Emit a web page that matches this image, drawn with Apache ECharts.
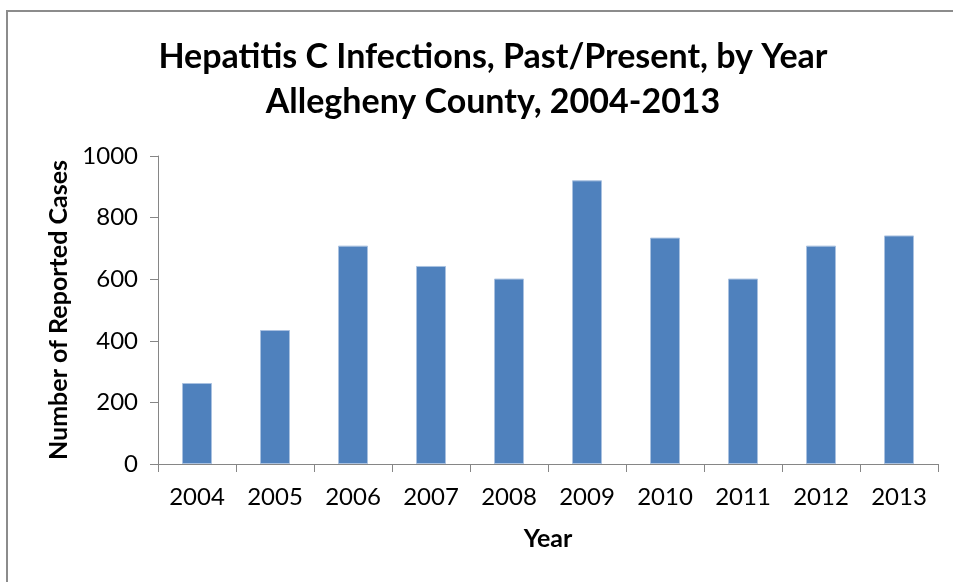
<!DOCTYPE html>
<html>
<head>
<meta charset="utf-8">
<script src="https://cdn.jsdelivr.net/npm/echarts@6/dist/echarts.min.js"></script>
<style>
  html, body { margin: 0; padding: 0; background: #fff; }
  #barChart { width: 953px; height: 582px; }
</style>
</head>
<body>
<div id="barChart"></div>
<script>
const years = ['2004', '2005', '2006', '2007', '2008', '2009', '2010', '2011', '2012', '2013'];
const cases = [263, 435, 709, 643, 602, 921, 735, 602, 709, 742];
const yTicks = [0, 200, 400, 600, 800, 1000];

const barChart = echarts.init(document.getElementById('barChart'));
const font = 'Lato, "Liberation Sans", sans-serif';
const axisGray = '#868686';

const option = {
  backgroundColor: '#fff',
  animation: false,
  title: {
    text: 'Hepatitis C Infections, Past/Present, by Year\nAllegheny County, 2004-2013',
    left: 488,
    top: 30,
    textAlign: 'center',
    textStyle: {
      fontFamily: font,
      fontWeight: 'bold',
      fontSize: 34,
      lineHeight: 45,
      color: '#000'
    }
  },
  graphic: [
    {
      type: 'rect',
      shape: { x: 7, y: 11, width: 1000, height: 1000 },
      style: { fill: null, stroke: '#8c8c8c', lineWidth: 2 },
      silent: true
    }
  ],
  grid: {
    left: 158,
    right: 15,
    top: 156,
    bottom: 118
  },
  xAxis: {
    type: 'category',
    data: years,
    name: 'Year',
    nameLocation: 'middle',
    nameGap: 62,
    nameTextStyle: { fontFamily: font, fontWeight: 'bold', fontSize: 25, color: '#000' },
    axisLine: { lineStyle: { color: axisGray, width: 1 } },
    axisTick: { show: true, length: 8, lineStyle: { color: axisGray } },
    axisLabel: { fontFamily: font, fontSize: 24, color: '#000', margin: 21 }
  },
  yAxis: {
    type: 'value',
    min: yTicks[0],
    max: yTicks[yTicks.length - 1],
    interval: yTicks[1] - yTicks[0],
    name: 'Number of Reported Cases',
    nameLocation: 'middle',
    nameGap: 80,
    nameTextStyle: { fontFamily: font, fontWeight: 'bold', fontSize: 25, color: '#000' },
    axisLine: { show: true, lineStyle: { color: axisGray, width: 1 } },
    axisTick: { show: true, length: 8, lineStyle: { color: axisGray } },
    axisLabel: { fontFamily: font, fontSize: 24, color: '#000', margin: 20, formatter: v => String(v) },
    splitLine: { show: false }
  },
  series: [
    {
      name: 'Cases',
      type: 'bar',
      data: cases,
      barWidth: 30,
      itemStyle: {
        color: '#4f81bd',
        borderColor: '#a9c1e0',
        borderWidth: 1
      }
    }
  ]
};

barChart.setOption(option);
</script>
</body>
</html>
